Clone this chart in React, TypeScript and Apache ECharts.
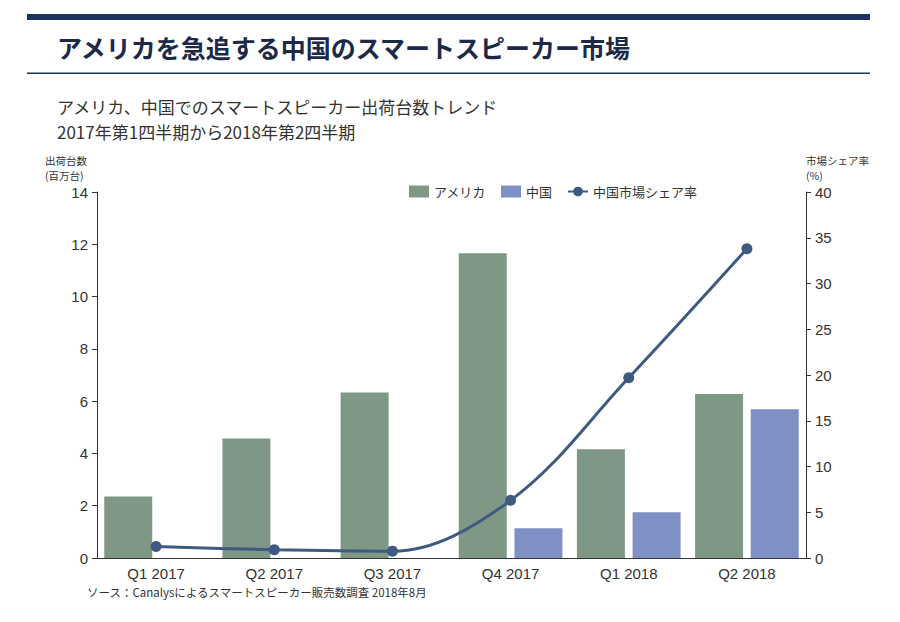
import React, { useEffect, useRef } from "react";
import * as echarts from "echarts";

const categories = ["Q1 2017", "Q2 2017", "Q3 2017", "Q4 2017", "Q1 2018", "Q2 2018"];
const usShipments = [2.35, 4.57, 6.33, 11.66, 4.16, 6.27];
const cnShipments = [0, 0, 0, 1.14, 1.75, 5.69];
const cnShare = [1.25, 0.9, 0.75, 6.3, 19.7, 33.8];
const leftTicks = { min: 0, max: 14, interval: 2 };
const rightTicks = { min: 0, max: 40, interval: 5 };

const JP = '"Noto Sans CJK JP", "Noto Sans", sans-serif';
const NUM = '"Liberation Sans", Arial, "Noto Sans CJK JP", sans-serif';

export default function App() {
  const ref = useRef<HTMLDivElement>(null);
  useEffect(() => {
    if (!ref.current) return;
    const chart = echarts.init(ref.current, null, { renderer: "svg" });
    chart.setOption({
      animation: false,
      backgroundColor: "#ffffff",
      textStyle: { fontFamily: NUM },
      grid: { left: 97, right: 94, top: 192, bottom: 64, containLabel: false },
      legend: {
        left: 404,
        top: 180,
        itemWidth: 20,
        itemHeight: 12,
        itemGap: 15,
        textStyle: { fontFamily: JP, fontSize: 13, color: "#333" },
        data: [
          { name: "アメリカ", icon: "rect" },
          { name: "中国", icon: "rect" },
          { name: "中国市場シェア率" },
        ],
      },
      xAxis: {
        type: "category",
        data: categories,
        axisLine: { lineStyle: { color: "#333", width: 1 } },
        axisTick: { show: false },
        axisLabel: { color: "#333", fontSize: 15, fontFamily: NUM, margin: 8 },
      },
      yAxis: [
        {
          type: "value",
          ...leftTicks,
          position: "left",
          axisLine: { show: true, lineStyle: { color: "#333" } },
          axisTick: { show: true, length: 5, lineStyle: { color: "#333" } },
          splitLine: { show: false },
          axisLabel: { color: "#333", fontSize: 15, fontFamily: NUM, margin: 9 },
        },
        {
          type: "value",
          ...rightTicks,
          position: "right",
          axisLine: { show: true, lineStyle: { color: "#333" } },
          axisTick: { show: true, length: 5, lineStyle: { color: "#333" } },
          splitLine: { show: false },
          axisLabel: { color: "#333", fontSize: 15, fontFamily: NUM, margin: 9 },
        },
      ],
      series: [
        {
          name: "アメリカ",
          type: "bar",
          data: usShipments,
          barWidth: 48,
          barGap: "16%",
          itemStyle: { color: "#7f9886" },
        },
        {
          name: "中国",
          type: "bar",
          data: cnShipments,
          barWidth: 48,
          itemStyle: { color: "#7f90c4" },
        },
        {
          name: "中国市場シェア率",
          type: "line",
          yAxisIndex: 1,
          data: cnShare,
          smooth: 0.35,
          symbol: "circle",
          symbolSize: 11,
          lineStyle: { color: "#3e5a80", width: 3 },
          itemStyle: { color: "#3e5a80" },
        },
      ],
      graphic: [
        { type: "rect", shape: { x: 27, y: 14, width: 843, height: 6 }, style: { fill: "#1b3160" } },
        { type: "rect", shape: { x: 27, y: 72.5, width: 843, height: 1.5 }, style: { fill: "#1b3160" } },
        {
          type: "text",
          x: 57,
          y: 47,
          style: {
            text: "アメリカを急追する中国のスマートスピーカー市場",
            font: `bold 25px ${JP}`,
            fill: "#1c2a48",
            verticalAlign: "middle",
          },
        },
        {
          type: "text",
          x: 57,
          y: 106,
          style: {
            text: "アメリカ、中国でのスマートスピーカー出荷台数トレンド",
            font: `17px ${JP}`,
            fill: "#333",
            verticalAlign: "middle",
          },
        },
        {
          type: "text",
          x: 57,
          y: 131,
          style: {
            text: "2017年第1四半期から2018年第2四半期",
            font: `17px ${JP}`,
            fill: "#333",
            verticalAlign: "middle",
          },
        },
        {
          type: "text",
          x: 45,
          y: 160,
          style: { text: "出荷台数", font: `10.5px ${JP}`, fill: "#333", verticalAlign: "middle" },
        },
        {
          type: "text",
          x: 45,
          y: 175,
          style: { text: "(百万台)", font: `10.5px ${JP}`, fill: "#333", verticalAlign: "middle" },
        },
        {
          type: "text",
          x: 806,
          y: 160,
          style: { text: "市場シェア率", font: `10.5px ${JP}`, fill: "#333", verticalAlign: "middle" },
        },
        {
          type: "text",
          x: 806,
          y: 175,
          style: { text: "(%)", font: `10.5px ${JP}`, fill: "#333", verticalAlign: "middle" },
        },
        {
          type: "text",
          x: 87,
          y: 592,
          style: {
            text: "ソース：Canalysによるスマートスピーカー販売数調査 2018年8月",
            font: `11.5px ${JP}`,
            fill: "#333",
            verticalAlign: "middle",
          },
        },
      ],
    });
    return () => chart.dispose();
  }, []);
  return (
    <div
      ref={ref}
      style={{ position: "absolute", left: 0, top: 0, width: 900, height: 622 }}
    />
  );
}
